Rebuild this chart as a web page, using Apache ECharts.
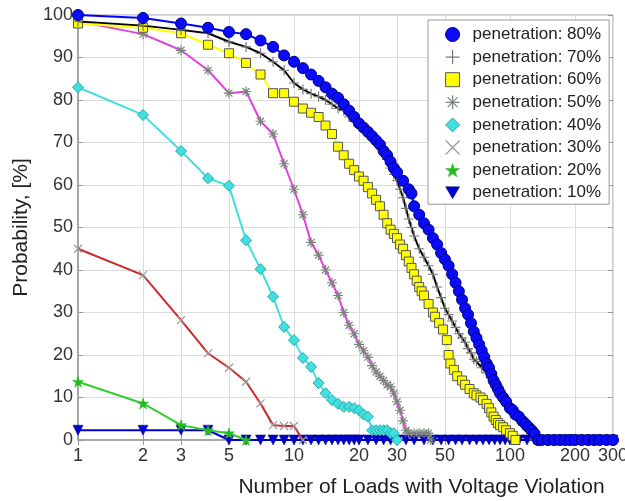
<!DOCTYPE html>
<html><head><meta charset="utf-8">
<script src="https://cdn.jsdelivr.net/npm/echarts@6/dist/echarts.min.js"></script>
<style>html,body{margin:0;padding:0;background:#fff}#c{width:625px;height:501px}</style>
</head><body><div id="c"></div>
<script>
var xTicks = [1,2,3,5,10,20,30,50,100,200,300];
var names = ['penetration: 80%','penetration: 70%','penetration: 60%','penetration: 50%','penetration: 40%','penetration: 30%','penetration: 20%','penetration: 10%'];

var pen80 = [[1,100],[2,99.3],[3,98],[4,97],[5,96],[6,95.5],[7,94],[8,92.5],[9,90.5],[10,89],[11,87.5],[12,86],[13,84.5],[14,83],[15,81.5],[16,80.5],[17,79],[18,77.5],[19,76],[20,74.5],[21,73.5],[22,72.5],[23,71.5],[24,70.5],[25,69.5],[26,68],[27,67],[28,65.5],[29,64],[30,63],[32,61],[34,59],[35,58],[36,55],[38,53],[40,51],[42,49.5],[44,47.5],[46,46],[48,44],[50,42.5],[52,41],[54,39],[56,37],[58,35],[60,33],[62,31],[64,29.5],[66,27.5],[68,25.5],[70,24],[72,22.5],[74,21],[76,19.5],[78,18],[80,17],[82,15.5],[84,14],[86,13],[88,12],[90,11],[93,10],[96,9],[100,7.5],[103,7],[106,6],[110,5.5],[114,4.5],[118,3.8],[122,3],[126,2.3],[130,1.5],[135,0],[140,0],[150,0],[160,0],[170,0],[180,0],[190,0],[200,0],[215,0],[230,0],[245,0],[260,0],[280,0],[300,0]];
var pen70 = [[1,98.5],[2,97.5],[3,96.5],[4,95.7],[5,93.7],[6,92.5],[7,91],[8,89],[9,87],[10,84],[11,82.5],[12,81.5],[13,80.8],[14,80],[15,79],[16,78],[17,77.5],[18,76],[19,75],[20,74],[21,73.2],[22,72.5],[23,71.8],[24,71],[25,69.5],[26,68],[27,66],[28,64],[29,62.5],[30,61],[31,59],[32,57],[33,54.5],[34,52],[35,50],[36,48],[38,45],[40,43],[42,41],[44,39],[46,36],[48,33.5],[50,31],[52,29.5],[54,28],[56,26.5],[58,25],[60,24],[62,23],[64,21.5],[66,20.5],[68,19],[70,18.5],[74,17],[78,15.8],[82,14.5],[86,13],[90,11.8],[95,9.5],[100,7.8],[105,6.5],[110,5],[115,3.5],[120,2.5],[125,1.5],[130,0],[140,0],[150,0],[165,0],[180,0],[200,0],[230,0],[260,0],[300,0]];
var pen60 = [[1,98],[2,97],[3,95.7],[4,93],[5,91],[6,88.7],[7,86],[8,81.6],[9,81.6],[10,79.6],[11,78],[12,77],[13,76],[14,74],[15,72],[16,69],[17,67],[18,65],[19,63.5],[20,62],[21,61],[22,59.5],[23,58],[24,56.5],[25,55],[26,53],[27,51],[28,49.5],[29,48.5],[30,47.5],[31,46],[32,45],[33,43.5],[34,42],[35,40.5],[36,39],[37,37.5],[38,36],[39,35],[40,34],[42,32],[44,30],[45,29],[47,27.5],[49,26],[51,23.5],[52,20],[53,18],[55,16.5],[57,15],[60,14],[62,13],[65,12],[68,11],[70,10.5],[73,10],[75,9.4],[78,8.5],[80,7.5],[82,6.5],[84,5.5],[86,4.7],[88,4],[90,3.5],[93,3],[96,2.3],[100,1.6],[103,1],[106,0]];
var pen50 = [[1,98.5],[2,95.5],[3,91.7],[4,87],[5,81.6],[6,82],[7,75],[8,72],[9,65],[10,59],[11,53],[12,46.5],[13,43.5],[14,40],[15,37],[16,34],[17,30],[18,27],[19,25],[20,22.5],[21,21],[22,19.5],[23,17.5],[24,16],[25,15],[26,14],[27,13],[28,12.5],[29,11],[30,9],[31,7],[32,4.5],[33,2.3],[34,1.6],[36,1.6],[38,1.6],[40,1.6],[42,1.6],[43,0]];
var pen40 = [[1,83],[2,76.5],[3,68],[4,61.6],[5,59.8],[6,47],[7,40.2],[8,33.7],[9,26.6],[10,23.5],[11,19.3],[12,17.2],[13,13.4],[14,11],[15,9.4],[16,8.5],[17,7.8],[18,7.8],[19,7.5],[20,7],[21,6],[22,5.5],[23,2.3],[24,2.3],[25,2.3],[26,2.3],[27,2.3],[28,1.6],[29,1.6],[30,0]];
var pen30 = [[1,45],[2,38.8],[3,28.2],[4,20.4],[5,17],[6,13.7],[7,8.6],[8,3.5],[9,3.3],[10,3.3],[11,0]];
var pen20 = [[1,13.7],[2,8.6],[3,3.5],[4,2.3],[5,1.6],[6,0]];
var pen10 = [[1,2.3],[2,2.3],[3,2.3],[4,2.3],[5,0],[6,0],[7,0],[8,0],[9,0],[10,0],[11,0],[12,0],[13,0],[14,0],[15,0],[16,0],[17,0],[18,0],[19,0],[20,0],[22,0],[24,0],[26,0],[28,0],[30,0],[33,0],[36,0],[40,0],[44,0],[48,0],[52,0],[56,0],[60,0],[65,0],[70,0],[75,0],[80,0],[85,0],[90,0],[95,0],[100,0],[110,0],[120,0],[130,0],[140,0],[150,0],[160,0],[170,0],[180,0],[190,0],[200,0],[215,0],[230,0],[245,0],[260,0],[280,0],[300,0]];

var PLUS = 'path://M5,0L5,10M0,5L10,5';
var CROSS = 'path://M0,0L10,10M10,0L0,10';
var AST = 'path://M5,0L5,10M0,5L10,5M1.5,1.5L8.5,8.5M8.5,1.5L1.5,8.5';
var STAR = 'path://M5,0L6.2,3.6L10,3.6L6.9,5.9L8.1,9.5L5,7.3L1.9,9.5L3.1,5.9L0,3.6L3.8,3.6Z';
var TRI = 'path://M0,0L10,0L5,8.5Z';

var styles = [
  {data:pen80, symbol:'circle', size:11, line:'#0000ff', item:{color:'#0a0aff', borderColor:'#00007a', borderWidth:1}, z:9},
  {data:pen70, symbol:PLUS, size:10, line:'#000000', item:{color:'#777', borderColor:'#777', borderWidth:1.2}, z:8},
  {data:pen60, symbol:'rect', size:9, line:'#ffff00', item:{color:'#ffff00', borderColor:'#555', borderWidth:1}, z:7},
  {data:pen50, symbol:AST, size:10, line:'#e040e0', item:{color:'#7a857a', borderColor:'#7a857a', borderWidth:1.2}, z:6},
  {data:pen40, symbol:'diamond', size:11, line:'#40e0e0', item:{color:'#40e0e0', borderColor:'#2aa8a8', borderWidth:1}, z:5},
  {data:pen30, symbol:CROSS, size:8, line:'#cc2a2a', item:{color:'#999', borderColor:'#999', borderWidth:1.2}, z:4},
  {data:pen20, symbol:STAR, size:11, line:'#33cc33', item:{color:'#22bb22', borderColor:'#22bb22', borderWidth:0.5}, z:3},
  {data:pen10, symbol:TRI, size:10, line:'#0000cc', item:{color:'#0000cc', borderColor:'#000088', borderWidth:0.5}, z:2}
];

var series = styles.map(function(s, i){
  return {
    name: names[i], type:'line', data: s.data, z: s.z,
    xAxisIndex:0, yAxisIndex:0,
    symbol: s.symbol, symbolSize: s.size, showSymbol: true,
    lineStyle:{color:s.line, width:2}, itemStyle: s.item,
    emphasis:{disabled:true}, animation:false
  };
});

var legendData = styles.map(function(s, i){
  return {name: names[i], icon: s.symbol, itemStyle: s.item};
});

var FONT = 'Liberation Sans';
var chart = echarts.init(document.getElementById('c'), null, {renderer:'canvas'});
chart.setOption({
  backgroundColor:'#fff',
  animation:false,
  grid:{left:78, right:12, top:15, bottom:61, outerBoundsMode:'none', containLabel:false, show:true, borderColor:'#999', borderWidth:1},
  legend:{
    data: legendData, orient:'vertical', left:428, top:20,
    padding:[6,8,3,17], itemGap:5.6, itemWidth:14, itemHeight:14,
    backgroundColor:'#fff', borderColor:'#999', borderWidth:1, z:20,
    textStyle:{fontFamily:FONT, fontSize:17, color:'#222', lineHeight:17, padding:[0,0,0,8]}
  },
  xAxis:[{
    type:'log', logBase:10, min:1, max:300,
    name:'Number of Loads with Voltage Violation', nameLocation:'middle', nameGap:37,
    nameTextStyle:{fontFamily:FONT, fontSize:21, color:'#222', padding:[0,0,0,152]},
    axisLine:{lineStyle:{color:'#999', width:1.5}},
    axisTick:{inside:true, length:5, customValues:xTicks, lineStyle:{color:'#999'}},
    axisLabel:{customValues:xTicks, fontFamily:FONT, fontSize:18, color:'#333', margin:7},
    splitLine:{show:true, lineStyle:{color:'#dcdcdc', width:1}},
    minorTick:{show:false}
  },{
    type:'log', logBase:10, min:1, max:300, position:'top',
    axisLine:{show:false},
    axisTick:{inside:true, length:5, customValues:xTicks, lineStyle:{color:'#999'}},
    axisLabel:{show:false}, splitLine:{show:false}
  }],
  yAxis:[{
    type:'value', min:0, max:100, interval:10,
    name:'Probability, [%]', nameLocation:'middle', nameGap:34, nameRotate:90,
    nameTextStyle:{fontFamily:FONT, fontSize:21, color:'#222'},
    axisLine:{show:true, lineStyle:{color:'#999', width:1.5}},
    axisTick:{show:true, inside:true, length:5, lineStyle:{color:'#999'}},
    axisLabel:{fontFamily:FONT, fontSize:18, color:'#333', margin:5},
    splitLine:{show:true, lineStyle:{color:'#dcdcdc', width:1}}
  },{
    type:'value', min:0, max:100, interval:10, position:'right',
    axisLine:{show:false},
    axisTick:{show:true, inside:true, length:5, lineStyle:{color:'#999'}},
    axisLabel:{show:false}, splitLine:{show:false}
  }],
  series: series
});
</script>
</body></html>
